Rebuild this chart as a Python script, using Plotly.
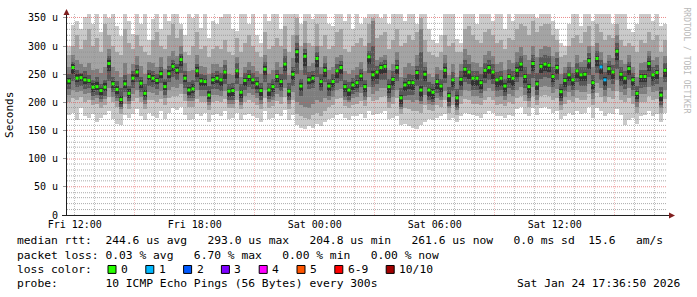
import numpy as np
import pandas as pd
import plotly.graph_objects as go

# ---------------- data (microseconds) ----------------
median = [238,262,243,244,240,239,227,228,221,227,269,233,223,205,233,216,243,254,234,216,246,243,239,251,228,251,264,257,276,243,222,224,256,238,237,213,240,
          243,240,254,220,221,256,218,239,246,240,233,221,259,222,228,246,237,268,220,250,290,229,282,240,243,278,237,257,229,237,256,262,228,222,231,235,247,228,
          281,249,254,262,264,228,241,262,208,231,235,235,253,222,250,222,218,237,229,257,212,240,208,241,259,254,243,243,235,257,262,254,240,243,229,246,243,
          257,268,246,228,269,233,264,268,266,246,262,219,239,249,240,256,249,250,274,235,278,263,240,260,254,291,250,243,260,240,216,246,246,269,249,253,213,257]

loss_cols = [133, 134]
loss_counts = [1, 1]

ping10 = [300,338,345,330,352,360,340,360,325,360,350,360,335,318,360,345,322,360,340,360,310,348,360,330,360,345,360,360,340,320,360,350,360,332,360,315,345,
          340,352,360,360,330,326,360,360,340,360,320,305,360,345,360,360,330,360,360,360,360,340,360,360,348,360,360,360,340,335,360,360,345,360,330,360,340,350,
          360,360,360,350,360,340,360,360,360,345,360,360,340,360,360,330,310,305,320,360,360,360,312,305,360,360,360,340,360,360,360,345,360,360,330,360,345,
          360,360,360,360,360,350,360,360,360,345,330,305,300,340,360,360,335,360,360,345,360,360,360,360,340,360,360,360,330,325,340,360,360,360,345,360,335,340]
ping9 = [285,300,320,295,310,330,300,315,290,340,320,300,290,285,330,305,295,320,300,290,285,310,325,300,295,320,340,315,330,290,285,300,325,295,300,280,295,
         300,295,310,290,285,315,290,305,320,300,290,280,325,295,300,315,300,335,290,320,350,300,345,305,300,340,300,320,295,300,325,330,295,290,300,305,315,300,
         340,350,315,320,325,295,310,330,300,305,320,310,325,350,310,290,285,280,290,320,300,305,290,290,330,335,320,310,305,325,330,320,305,310,295,315,310,
         330,340,335,320,345,325,335,340,340,320,310,280,285,300,315,320,305,325,335,300,340,325,310,320,315,340,310,300,305,300,290,310,305,325,310,320,290,310]
ping8 = [262,285,275,268,262,270,258,260,252,262,295,262,255,245,270,250,268,282,265,250,272,270,262,280,260,282,292,282,300,270,255,258,285,265,262,250,268,
         268,262,275,250,248,280,245,262,272,265,255,250,285,250,258,272,262,295,248,278,320,258,305,265,270,300,262,282,258,262,280,285,255,250,258,262,272,255,
         305,345,275,280,285,258,268,290,245,262,270,265,285,330,272,250,245,262,258,285,248,268,245,268,295,285,272,270,262,285,292,282,268,272,258,275,270,
         290,298,285,275,300,280,295,300,298,282,290,250,262,272,262,285,272,275,300,262,305,290,270,285,278,320,275,268,285,262,245,270,272,292,275,280,245,282]
ping7 = [250,272,258,252,255,248,240,245,232,240,282,245,238,225,248,230,255,266,245,232,258,255,250,262,242,265,275,268,286,256,236,240,268,250,248,230,252,
         256,252,266,232,235,270,232,252,258,252,246,234,272,235,242,258,250,282,234,262,305,242,295,254,256,290,250,270,242,250,268,274,240,236,244,248,260,240,
         292,300,265,272,276,242,255,275,225,244,250,248,265,290,262,236,232,250,242,270,228,254,224,255,275,268,256,256,250,270,276,268,254,256,242,260,256,
         272,282,262,250,285,252,280,285,282,262,278,232,252,262,252,270,262,262,288,248,292,276,254,274,266,305,262,256,272,252,230,258,258,282,262,266,228,270]
ping6 = [244,268,250,250,246,242,234,236,226,234,276,238,230,212,240,224,250,260,240,222,252,248,244,256,236,258,270,262,282,248,228,232,262,244,242,220,246,
         248,244,258,224,226,260,222,244,250,244,238,226,264,226,232,250,242,272,224,255,295,234,288,245,248,282,242,262,234,242,260,266,232,226,236,240,252,232,
         285,256,258,266,268,233,245,266,213,236,240,239,258,230,255,226,223,241,233,262,216,244,213,246,263,258,247,247,239,261,266,258,244,247,234,250,247,
         262,272,250,233,274,238,268,272,270,251,266,223,243,253,244,260,253,254,278,240,282,267,245,264,258,295,254,247,264,245,221,250,250,273,253,257,218,261]
ping5 = [232,250,236,238,232,234,218,222,214,220,255,226,215,198,226,208,236,246,226,210,240,236,232,244,222,244,255,250,265,236,214,216,246,230,230,206,232,
         234,230,242,210,212,244,208,230,238,232,224,212,248,212,218,236,228,255,210,240,270,220,265,232,234,262,228,246,220,228,244,250,218,212,222,226,238,218,
         268,238,242,250,252,216,230,250,198,220,224,222,240,210,238,210,206,224,218,244,200,228,196,230,246,242,230,230,224,244,250,242,228,230,218,234,230,
         246,256,234,216,256,222,252,256,254,236,250,208,228,238,230,244,238,238,260,224,264,250,230,248,242,275,238,232,248,230,206,236,236,256,238,242,202,246]
ping4 = [224,238,228,230,224,226,212,214,206,212,238,218,208,192,218,202,226,236,218,204,230,228,224,234,214,236,245,240,252,226,208,208,236,222,222,200,224,
         224,220,232,204,205,232,200,222,228,224,216,205,236,206,210,226,220,240,204,230,250,212,248,224,226,245,220,236,212,220,234,238,210,205,215,218,228,210,
         252,228,232,240,240,208,222,238,192,212,214,214,230,202,228,204,200,216,210,234,194,220,190,222,236,232,222,222,216,234,240,232,220,222,212,226,222,
         236,246,226,208,244,214,242,246,244,228,240,202,220,230,222,236,230,230,248,216,252,240,222,240,232,260,230,224,240,222,200,226,228,246,230,232,196,236]
ping3 = [214,222,218,220,215,216,205,208,200,206,225,210,202,188,210,198,215,222,210,198,218,216,214,220,208,222,228,226,232,215,202,202,222,212,212,196,214,
         214,212,220,198,198,220,195,212,216,214,208,198,222,200,204,215,210,226,198,218,200,195,192,190,198,205,200,208,205,210,222,224,204,200,208,210,216,204,
         228,215,220,225,226,200,210,222,188,204,205,200,205,198,214,198,195,208,204,220,190,210,186,212,222,220,212,212,208,220,225,220,210,212,205,215,212,
         222,228,214,202,228,205,228,230,228,216,224,195,210,218,212,222,218,218,232,206,234,225,212,225,220,240,218,214,225,212,192,215,215,228,218,220,190,222]
ping2 = [200,208,205,210,200,204,196,198,190,195,210,200,192,180,198,188,202,208,200,188,205,204,200,206,196,208,212,212,215,202,192,192,206,200,200,186,200,
         202,200,206,190,190,205,188,200,204,200,196,188,208,190,194,202,198,210,188,204,180,175,172,170,178,182,176,185,192,196,206,208,194,190,196,198,202,194,
         210,202,205,210,212,190,198,208,180,190,188,185,185,182,195,186,184,195,192,205,182,196,178,198,206,205,198,198,196,205,210,205,196,198,194,200,198,
         208,212,202,192,212,195,212,214,212,204,208,186,198,205,200,208,205,205,215,195,216,210,200,210,206,220,204,200,208,198,182,200,200,212,204,206,182,206]
ping1 = [178,182,168,190,175,172,180,165,172,178,185,170,162,160,178,172,180,188,176,168,182,175,172,185,170,182,190,186,192,178,168,170,180,176,182,165,178,
         180,176,185,170,172,182,168,178,180,175,172,165,185,170,172,180,176,186,168,178,160,155,152,158,155,162,158,165,170,172,178,180,172,168,175,175,180,172,
         185,178,180,182,185,170,172,175,160,162,158,155,152,160,165,170,168,172,175,180,168,172,165,175,182,180,178,176,172,180,185,182,175,176,172,178,176,
         188,192,180,175,190,178,190,192,188,182,185,170,175,182,178,185,180,182,192,172,190,185,175,182,180,188,178,160,168,172,162,176,178,185,175,180,165,182]

y_ticks = [0, 50, 100, 150, 200, 250, 300, 350]
y_ticktext = ["0", "50 u", "100 u", "150 u", "200 u", "250 u", "300 u", "350 u"]
x_ticks = ["2026-01-23 12:00", "2026-01-23 18:00", "2026-01-24 00:00", "2026-01-24 06:00", "2026-01-24 12:00"]
x_ticktext = ["Fri 12:00", "Fri 18:00", "Sat 00:00", "Sat 06:00", "Sat 12:00"]

legend_lines = [
    "median rtt:  244.6 us avg   293.0 us max   204.8 us min   261.6 us now   0.0 ms sd  15.6   am/s",
    "packet loss: 0.03 % avg   6.70 % max   0.00 % min   0.00 % now",
]
loss_labels = ["0", "1", "2", "3", "4", "5", "6-9", "10/10"]
loss_colors = ["#26ff00", "#00b8ff", "#0059ff", "#7e00ff", "#ff00ff", "#ff5500", "#ff0000", "#a10000"]
probe_text = "probe:       10 ICMP Echo Pings (56 Bytes) every 300s"
stamp_text = "Sat Jan 24 17:36:50 2026"

# ---------------- layout constants ----------------
W, H = 697, 297
PL, PR, PT, PB = 67, 667, 12, 215
Y_MAX = 357
MONO = "DejaVu Sans Mono"

def px2x(px):
    return (px - PL) / (PR - PL)

def py2y(py):
    return (PB - py) / (PB - PT)

t_end = pd.Timestamp("2026-01-24 17:36:50")
t_start = t_end - pd.Timedelta(hours=30)
span = t_end - t_start
n = len(median)
step = span / n
times = [t_start + step * (i + 0.5) for i in range(n)]
width_ms = step.total_seconds() * 1000

pings = np.sort(np.array([ping1, ping2, ping3, ping4, ping5, ping6, ping7, ping8, ping9, ping10], dtype=float), axis=0)
smoke_colors = ["#cacaca", "#a4a4a4", "#7e7e7e", "#585858", "#323232"]

fig = go.Figure()
for i in range(5):
    lo = pings[i]
    hi = pings[9 - i]
    fig.add_trace(go.Bar(x=times, y=hi - lo, base=lo, width=width_ms,
                         marker=dict(color=smoke_colors[i], line=dict(width=0)),
                         hoverinfo="skip"))

# grid lines, snapped to pixel centres
ys_px = (PB - PT) / Y_MAX
xs_px = (PR - PL) / span.total_seconds()

def snap_y(v):
    r = np.floor(PB - v * ys_px)
    return (PB - (r + 0.5)) / ys_px

def snap_t(t):
    px = PL + (t - t_start).total_seconds() * xs_px
    c = np.floor(px) + 0.5
    return t_start + pd.Timedelta(seconds=(c - PL) / xs_px)

def hlines(vals):
    xs, ys = [], []
    for v in vals:
        yv = snap_y(v)
        xs += [t_start, t_end, None]
        ys += [yv, yv, None]
    return xs, ys

def vlines(ts):
    xs, ys = [], []
    for t in ts:
        tv = snap_t(t)
        xs += [tv, tv, None]
        ys += [0, Y_MAX, None]
    return xs, ys

minor_y = [v for v in range(10, 360, 10) if v % 50 != 0]
major_y = [v for v in range(50, 360, 50)]
hours = pd.date_range(t_start.ceil("h"), t_end, freq="h")
minor_x = [h for h in hours if h.hour % 6 != 3]
major_x = [h for h in hours if h.hour % 6 == 3]

grid_specs = [
    (hlines(minor_y), "rgba(143,143,143,0.75)"),
    (vlines(minor_x), "rgba(143,143,143,0.55)"),
    (hlines(major_y), "rgba(222,79,79,0.65)"),
    (vlines(major_x), "rgba(222,79,79,0.35)"),
]
for (xs, ys), col in grid_specs:
    fig.add_trace(go.Scatter(x=xs, y=ys, mode="lines",
                             line=dict(color=col, width=1, dash="1px,1px"),
                             hoverinfo="skip"))

# medians coloured by loss
loss_full = [0] * n
for c, k in zip(loss_cols, loss_counts):
    loss_full[c] = k
mcolors = [loss_colors[min(k, 6) if k < 10 else 7] for k in loss_full]
fig.add_trace(go.Scatter(x=times, y=median, mode="markers",
                         marker=dict(symbol="square", size=3, color=mcolors, line=dict(width=0)),
                         hoverinfo="skip"))

shapes = []
axis_col = "#1f1f1f"
arrow_col = "#801f1f"
shapes.append(dict(type="line", xref="paper", yref="paper", x0=px2x(66.5), x1=px2x(66.5),
                   y0=py2y(215.5), y1=py2y(9), line=dict(color=axis_col, width=1)))
shapes.append(dict(type="line", xref="paper", yref="paper", x0=px2x(62), x1=px2x(670),
                   y0=py2y(215.5), y1=py2y(215.5), line=dict(color=axis_col, width=1)))

def tri(pts):
    return "M " + " L ".join(f"{px2x(a)},{py2y(b)}" for a, b in pts) + " Z"
shapes.append(dict(type="path", xref="paper", yref="paper",
                   path=tri([(63.5, 13), (69.5, 13), (66.5, 7)]),
                   fillcolor=arrow_col, line=dict(width=0)))
shapes.append(dict(type="path", xref="paper", yref="paper",
                   path=tri([(669, 212.5), (669, 218.5), (675, 215.5)]),
                   fillcolor=arrow_col, line=dict(width=0)))

annotations = []
annotations.append(dict(text="Seconds", xref="paper", yref="paper", x=px2x(10), y=py2y(114),
                        textangle=-90, showarrow=False, xanchor="center", yanchor="middle",
                        font=dict(family=MONO, size=11, color="#000")))
annotations.append(dict(text="RRDTOOL / TOBI OETIKER", xref="paper", yref="paper", x=px2x(686), y=py2y(59),
                        textangle=90, showarrow=False, xanchor="center", yanchor="middle",
                        font=dict(family=MONO, size=8, color="#b8b8b8")))
LEG_FS = 11.3
CW = 6.8
line_y = [241, 256, 270, 284]
for txt, yy in zip(legend_lines, line_y[:2]):
    annotations.append(dict(text=txt.replace(" ", "&nbsp;"), xref="paper", yref="paper", x=px2x(16), y=py2y(yy),
                            showarrow=False, xanchor="left", yanchor="middle",
                            font=dict(family=MONO, size=LEG_FS, color="#000")))
annotations.append(dict(text="loss&nbsp;color:", xref="paper", yref="paper", x=px2x(16), y=py2y(line_y[2]),
                        showarrow=False, xanchor="left", yanchor="middle",
                        font=dict(family=MONO, size=LEG_FS, color="#000")))
xs = 108
for lab, col in zip(loss_labels, loss_colors):
    shapes.append(dict(type="rect", xref="paper", yref="paper", x0=px2x(xs), x1=px2x(xs + 8),
                       y0=py2y(line_y[2] + 4), y1=py2y(line_y[2] - 4),
                       fillcolor=col, line=dict(color="#000", width=1)))
    annotations.append(dict(text=lab, xref="paper", yref="paper", x=px2x(xs + 12), y=py2y(line_y[2]),
                            showarrow=False, xanchor="left", yanchor="middle",
                            font=dict(family=MONO, size=LEG_FS, color="#000")))
    xs += 12 + len(lab) * CW + 19
annotations.append(dict(text=probe_text.replace(" ", "&nbsp;"), xref="paper", yref="paper", x=px2x(16), y=py2y(line_y[3]),
                        showarrow=False, xanchor="left", yanchor="middle",
                        font=dict(family=MONO, size=LEG_FS, color="#000")))
annotations.append(dict(text=stamp_text.replace(" ", "&nbsp;"), xref="paper", yref="paper", x=px2x(681), y=py2y(line_y[3]),
                        showarrow=False, xanchor="right", yanchor="middle",
                        font=dict(family=MONO, size=LEG_FS, color="#000")))
for a in annotations:
    a["borderpad"] = 0

fig.update_layout(
    width=W, height=H,
    margin=dict(l=PL, r=W - PR, t=PT, b=H - PB, pad=0),
    paper_bgcolor="#ffffff", plot_bgcolor="#ffffff",
    barmode="overlay", bargap=0, showlegend=False,
    shapes=shapes, annotations=annotations,
    xaxis=dict(type="date", range=[t_start, t_end], showgrid=False, zeroline=False, showline=False,
               tickvals=x_ticks, ticktext=x_ticktext, ticks="", ticklabelstandoff=2,
               tickfont=dict(family=MONO, size=10, color="#000"), fixedrange=True),
    yaxis=dict(range=[0, Y_MAX], showgrid=False, zeroline=False, showline=False,
               tickvals=y_ticks, ticktext=y_ticktext, ticks="outside", ticklen=3, tickcolor="#999",
               ticklabelstandoff=3,
               tickfont=dict(family=MONO, size=10, color="#000"), fixedrange=True),
)

fig.write_html("out.html", config={"displayModeBar": False, "staticPlot": True})
